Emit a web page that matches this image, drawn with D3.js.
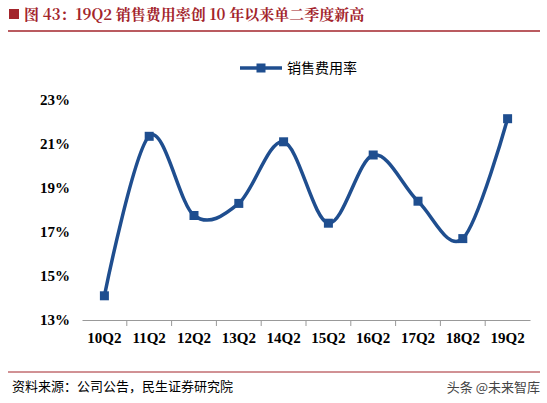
<!DOCTYPE html>
<html><head><meta charset="utf-8">
<script src="https://cdn.jsdelivr.net/npm/d3@7"></script>
<style>body{margin:0;background:#fff}</style></head>
<body><svg id="c" width="547" height="403"></svg>
<script>
const categories=["10Q2","11Q2","12Q2","13Q2","14Q2","15Q2","16Q2","17Q2","18Q2","19Q2"];
const values=[14.1,21.35,17.75,18.3,21.1,17.4,20.5,18.4,16.7,22.15];
const yTicks=[13,15,17,19,21,23];
const seriesName="销售费用率";
const svg=d3.select("#c");
const red="#a3242b", blue="#1f4e8f";
svg.append("rect").attr("x",9).attr("y",9).attr("width",10).attr("height",10).attr("fill",red);
svg.append("text").attr("x",24).attr("y",20).attr("fill",red).attr("font-size",15).attr("font-weight","bold")
 .attr("font-family","'Noto Serif CJK SC','Noto Sans CJK SC',serif").text("图 43：19Q2 销售费用率创 10 年以来单二季度新高");
svg.append("line").attr("x1",8).attr("x2",540).attr("y1",31).attr("y2",31).attr("stroke",red).attr("stroke-width",1.5);
const x=d3.scaleBand().domain(categories).range([82,530]);
const y=d3.scaleLinear().domain([13,23]).range([320,100]);
const g=svg.append("g");
g.append("g").attr("transform","translate(0,320)").call(d3.axisBottom(x).tickSize(0).tickPadding(12))
 .call(a=>a.selectAll("text").attr("font-size",15).attr("font-weight","bold").attr("font-family","'Times New Roman','Liberation Serif',serif").attr("fill","#000"))
 .call(a=>a.select(".domain").attr("stroke","#999"));
g.selectAll(".sep").data(categories.slice(1)).join("line").attr("x1",d=>x(d)).attr("x2",d=>x(d)).attr("y1",320).attr("y2",326).attr("stroke","#999");
g.append("g").attr("transform","translate(82,0)").call(d3.axisLeft(y).tickValues(yTicks).tickFormat(d=>d+"%").tickSize(0).tickPadding(12))
 .call(a=>a.selectAll("text").attr("font-size",15).attr("font-weight","bold").attr("font-family","'Times New Roman','Liberation Serif',serif").attr("fill","#000"))
 .call(a=>a.select(".domain").remove());
const line=d3.line().x((d,i)=>x(categories[i])+x.bandwidth()/2).y(d=>y(d)).curve(d3.curveCardinal.tension(0));
g.append("path").attr("d",line(values)).attr("fill","none").attr("stroke",blue).attr("stroke-width",3.5);
g.selectAll(".pt").data(values).join("rect").attr("width",9).attr("height",9)
 .attr("x",(d,i)=>x(categories[i])+x.bandwidth()/2-4.5).attr("y",d=>y(d)-4.5).attr("fill",blue);
svg.append("line").attr("x1",240).attr("x2",282).attr("y1",68).attr("y2",68).attr("stroke",blue).attr("stroke-width",3.5);
svg.append("rect").attr("x",256.5).attr("y",63.5).attr("width",9).attr("height",9).attr("fill",blue);
svg.append("text").attr("x",287).attr("y",73).attr("font-size",14).attr("font-family","'Noto Sans CJK SC'").text(seriesName);
svg.append("line").attr("x1",8).attr("x2",540).attr("y1",372).attr("y2",372).attr("stroke",red).attr("stroke-width",1);
svg.append("text").attr("x",12).attr("y",391).attr("font-size",13).attr("font-family","'Noto Sans CJK SC'").text("资料来源：公司公告，民生证券研究院");
svg.append("text").attr("x",540).attr("y",392).attr("text-anchor","end").attr("font-size",13).attr("fill","#444").attr("font-family","'Noto Sans CJK SC'").text("头条 @未来智库");
</script></body></html>
